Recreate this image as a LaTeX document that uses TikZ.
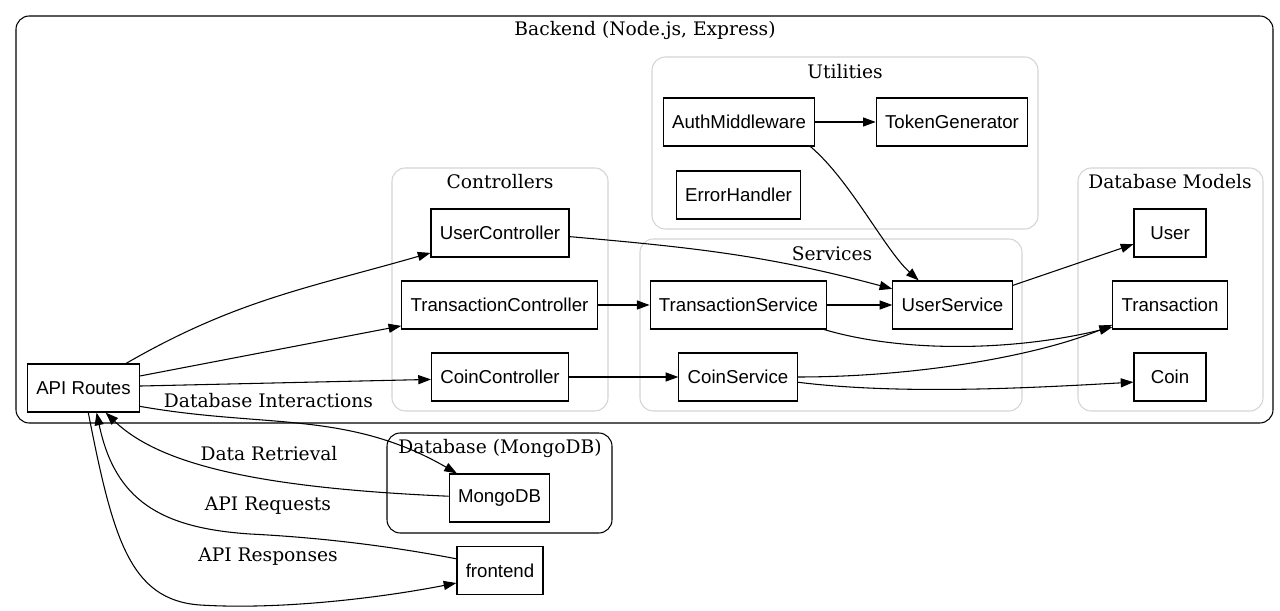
\documentclass[tikz,border=0pt]{standalone}
\usepackage{fontspec}
\setmainfont{DejaVu Serif}
\newfontfamily\boxfont{Liberation Sans}
\usetikzlibrary{arrows.meta}

\begin{document}
\begin{tikzpicture}[x=0.75pt,y=0.75pt,
	box/.style={draw,rectangle,line width=0.9pt,minimum width=54pt,minimum height=36pt,inner xsep=6.6pt,font=\boxfont\fontsize{14}{16}\selectfont},
	cluster/.style={draw=black!17,line width=0.8pt,rounded corners=10pt},
	title/.style={font=\fontsize{14}{16}\selectfont,inner sep=0pt},
	edge/.style={-{Triangle[length=9.5pt,width=6.8pt]},line width=0.8pt}]
	\useasboundingbox (0,0) rectangle (1280,610);

	% clusters
	\draw[cluster,draw=black] (16,187) rectangle (1273,594);
	\node[title] (backend) at (645,580) {Backend (Node.js, Express)};
	\draw[cluster] (652,381) rectangle (1038,553);
	\node[title] (utils) at (845,538) {Utilities};
	\draw[cluster] (392,199) rectangle (608,442);
	\node[title] (ctrls) at (500,428) {Controllers};
	\draw[cluster] (640,199) rectangle (1022,371);
	\node[title] (svcs) at (832,356) {Services};
	\draw[cluster] (1078,199) rectangle (1263,442);
	\node[title] (models) at (1170,428) {Database Models};
	\draw[cluster,draw=black] (387,77) rectangle (612,177);
	\node[title] (db) at (500,162) {Database (MongoDB)};

	% components
	\node[box] (auth) at (739,488) {AuthMiddleware};
	\node[box] (token) at (952,488) {TokenGenerator};
	\node[box] (errh) at (738.5,415) {ErrorHandler};
	\node[box] (uctrl) at (500,377) {UserController};
	\node[box] (tctrl) at (499.5,305) {TransactionController};
	\node[box] (cctrl) at (500,233) {CoinController};
	\node[box] (tsvc) at (738.5,305) {TransactionService};
	\node[box] (usvc) at (952.5,305) {UserService};
	\node[box] (csvc) at (738,233) {CoinService};
	\node[box] (user) at (1170,377) {User};
	\node[box] (trans) at (1170,305) {Transaction};
	\node[box] (coin) at (1170,233) {Coin};
	\node[box] (api) at (83.5,222) {API Routes};
	\node[box] (mongo) at (499.5,112) {MongoDB};
	\node[box] (front) at (500,39.5) {frontend};

	% routes
	\draw[edge] (api) to[out=30,in=196] (uctrl);
	\draw[edge] (api.12) -- (tctrl.192);
	\draw[edge] (api.2) -- (cctrl.182);
	\draw[edge] (api.-18) to[out=-10,in=150] (mongo);
	\draw[edge] (mongo.178) .. controls (260,122) and (160,145) .. (api.-48);
	\draw[edge] (front.165) .. controls (400,62) and (330,72) .. (250,76) .. controls (160,82) and (115,110) .. (api.-62);
	\draw[edge] (api.-79) .. controls (113,71) and (130,10) .. (200,5) .. controls (280,0) and (380,12) .. (front.196);

	\node[title] (dbint) at (268.5,209) {Database Interactions};
	\node[title] (dret) at (269,156) {Data Retrieval};
	\node[title] (areq) at (268,104) {API Requests};
	\node[title] (aresp) at (268,53) {API Responses};

	% backend internals
	\draw[edge] (cctrl) -- (csvc);
	\draw[edge] (tctrl) -- (tsvc);
	\draw[edge] (uctrl.-3) to[out=-5,in=165] (usvc);
	\draw[edge] (auth) -- (token);
	\draw[edge] (auth.-19) .. controls (850,430) and (885,360) .. (usvc.144);
	\draw[edge] (tsvc) -- (usvc);
	\draw[edge] (tsvc.-16) .. controls (900,258) and (1010,258) .. (trans.201);
	\draw[edge] (csvc) .. controls (920,233) and (1040,255) .. (trans.199);
	\draw[edge] (csvc.-5) .. controls (900,215) and (1030,222) .. (coin.188);
	\draw[edge] (usvc.18) -- (user.197);
\end{tikzpicture}
\end{document}
